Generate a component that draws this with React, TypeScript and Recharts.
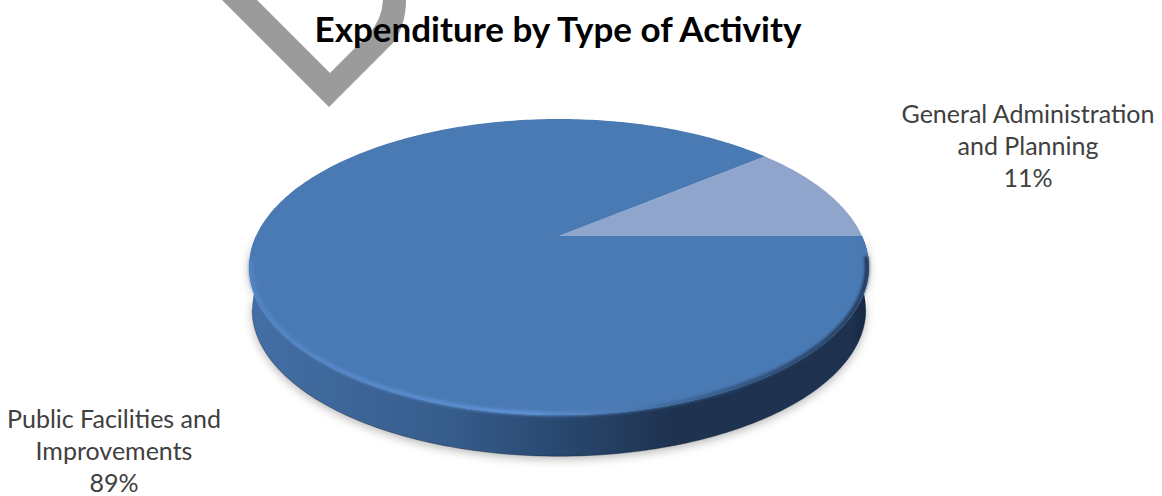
import { PieChart, Pie, Cell } from 'recharts';

const categories = ['General Administration\nand Planning', 'Public Facilities and\nImprovements'];
const shares = [11, 89];
const sliceColors = ['#8fa5cb', '#4a7ab4'];
const chartTitle = 'Expenditure by Type of Activity';

const tableData = categories.map((name, i) => ({ name, value: shares[i] }));

// where the data labels sit, in the same order as the categories
const labelSpots = [
  { x: 1028, y: 123 },
  { x: 114, y: 428 },
];

const FONT = 'Lato, "Open Sans", sans-serif';
const TILT = 0.467; // squash of the pie's vertical axis
const PERSPECTIVE = 0.2095; // far side shrinks, near side grows
const DEPTH = 43;
const BASE_SCALE = 0.99;

const RAD = Math.PI / 180;

// a point on the pie's rim seen at an angle, with the perspective of the 3D view
const rim = (cx: number, cy: number, r: number, deg: number) => {
  const u = Math.cos(deg * RAD);
  const v = Math.sin(deg * RAD);
  const w = 1 + PERSPECTIVE * v;
  return { x: cx + (r * u) / w, y: cy - (r * TILT * v) / w };
};

const arcPoints = (cx: number, cy: number, r: number, from: number, to: number) => {
  const pts: string[] = [];
  const steps = Math.max(2, Math.ceil(Math.abs(to - from)));
  for (let i = 0; i <= steps; i++) {
    const p = rim(cx, cy, r, from + ((to - from) * i) / steps);
    pts.push(`${p.x.toFixed(2)},${p.y.toFixed(2)}`);
  }
  return pts;
};

const Slice3D = (props: any) => {
  const { cx, cy, outerRadius, startAngle, endAngle, fill } = props;
  const from = Math.min(startAngle, endAngle);
  const to = Math.max(startAngle, endAngle);
  const wallFrom = Math.max(from, 180);
  const wallTo = Math.min(to, 360);
  const face = `M${cx},${cy} L${arcPoints(cx, cy, outerRadius, from, to).join(' L')} Z`;

  let wall = '';
  let baseLine = '';
  let rimLine = '';
  if (wallTo > wallFrom) {
    const top = arcPoints(cx, cy, outerRadius, wallFrom, wallTo);
    const bottom = arcPoints(cx, cy + DEPTH, outerRadius * BASE_SCALE, wallTo, wallFrom);
    wall = `M${top.join(' L')} L${bottom.join(' L')} Z`;
    baseLine = `M${arcPoints(cx, cy + DEPTH, outerRadius * BASE_SCALE, 192, 348).join(' L')}`;
    rimLine = `M${arcPoints(cx, cy, outerRadius - 2, 190, 352).join(' L')}`;
  }

  return (
    <g>
      {wall && <path d={wall} fill="#000" fillOpacity={0.28} filter="url(#pieShadow)" transform="translate(0,3)" />}
      {wall && <path d={wall} fill="url(#wallShade)" />}
      {baseLine && <path d={baseLine} fill="none" stroke="#14233a" strokeOpacity={0.45} strokeWidth={1} />}
      <path d={face} fill={fill} />
      {rimLine && (
        <path d={rimLine} fill="none" stroke="url(#bevelShade)" strokeWidth={4} filter="url(#bevelBlur)" />
      )}
    </g>
  );
};

const renderLabel = (props: any) => {
  const { index, name, value } = props;
  const spot = labelSpots[index];
  const lines = [...String(name).split('\n'), `${value}%`];
  return (
    <text x={spot.x} y={spot.y} textAnchor="middle" fontFamily={FONT} fontSize={25} fill="#404040">
      {lines.map((line, i) => (
        <tspan key={line} x={spot.x} dy={i === 0 ? 0 : 32}>
          {line}
        </tspan>
      ))}
    </text>
  );
};

export default function App() {
  return (
    <div style={{ position: 'absolute', left: 0, top: 0, width: 1162, height: 496, background: '#fff' }}>
      <PieChart width={1162} height={496} margin={{ top: 0, right: 0, bottom: 0, left: 0 }}>
        <defs>
          <linearGradient id="wallShade" gradientUnits="userSpaceOnUse" x1="248" y1="0" x2="870" y2="0">
            <stop offset="0" stopColor="#446fa6" />
            <stop offset="0.33" stopColor="#365c8b" />
            <stop offset="0.5" stopColor="#28486f" />
            <stop offset="0.68" stopColor="#1f3351" />
            <stop offset="0.97" stopColor="#1e3250" />
            <stop offset="1" stopColor="#14233a" />
          </linearGradient>
          <linearGradient id="bevelShade" gradientUnits="userSpaceOnUse" x1="248" y1="0" x2="870" y2="0">
            <stop offset="0" stopColor="#5284c4" />
            <stop offset="0.3" stopColor="#5a8ed2" />
            <stop offset="0.45" stopColor="#5f93d8" />
            <stop offset="0.6" stopColor="#4a7ab4" />
            <stop offset="0.8" stopColor="#2f5079" />
            <stop offset="1" stopColor="#1e3250" />
          </linearGradient>
          <filter id="pieShadow" x="-10%" y="-20%" width="120%" height="140%">
            <feGaussianBlur stdDeviation="5" />
          </filter>
          <filter id="bevelBlur" x="-5%" y="-10%" width="110%" height="120%">
            <feGaussianBlur stdDeviation="1.8" />
          </filter>
        </defs>
        <path
          d="M222,0 L329,107 L393,43 Q406,25 406,0 L383,0 Q382,20 368,35 L330,73 L257,0 Z"
          fill="#9b9b9b"
        />
        <text x={558} y={42} textAnchor="middle" fontFamily={FONT} fontSize={35} fontWeight={700} fill="#000">
          {chartTitle}
        </text>
        <Pie
          data={tableData}
          dataKey="value"
          nameKey="name"
          cx={559}
          cy={236}
          outerRadius={303}
          startAngle={0}
          endAngle={360}
          stroke="none"
          shape={Slice3D}
          label={renderLabel}
          labelLine={false}
          isAnimationActive={false}
        >
          {tableData.map((d, i) => (
            <Cell key={d.name} fill={sliceColors[i]} />
          ))}
        </Pie>
      </PieChart>
    </div>
  );
}
